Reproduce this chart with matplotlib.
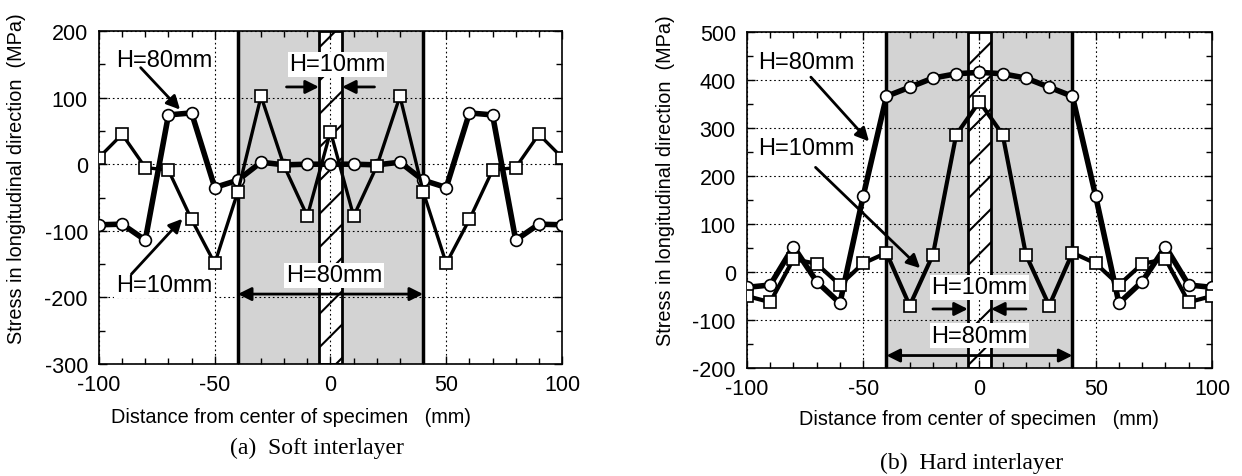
import numpy as np
import matplotlib
matplotlib.use('Agg')
import matplotlib.pyplot as plt
from matplotlib.ticker import MultipleLocator

plt.rcParams.update({
    "font.family": "sans-serif",
    "font.sans-serif": ["Liberation Sans", "DejaVu Sans"],
    "hatch.linewidth": 1.5,
    "axes.unicode_minus": False,
})

# distance from center of specimen (mm)
distance = [-100, -90, -80, -70, -60, -50, -40, -30, -20, -10, 0,
            10, 20, 30, 40, 50, 60, 70, 80, 90, 100]

# (a) soft interlayer
soft_h80 = [-91, -90, -114, 74, 77, -35, -24, 3, -1, 0, 0,
            0, -1, 3, -24, -35, 77, 74, -114, -90, -91]
soft_h10 = [10, 45, -5, -9, -83, -149, -41, 102, -3, -78, 49,
            -78, -3, 102, -41, -149, -83, -9, -5, 45, 10]

# (b) hard interlayer
hard_h80 = [-32, -27, 53, -20, -65, 158, 366, 385, 404, 413, 416,
            413, 404, 385, 366, 158, -65, -20, 53, -27, -32]
hard_h10 = [-50, -63, 27, 17, -27, 18, 40, -70, 36, 286, 355,
            286, 36, -70, 40, 18, -27, 17, 27, -63, -50]

interlayer_half = [40, 5]  # half width of H=80mm and H=10mm zones

FS_TICK = 15.5
FS_LABEL = 14.3
FS_NOTE = 17


def draw_panel(ax, h80, h10, ylim, h80_lw, h10_lw):
    ax.set_xlim(-100, 100)
    ax.set_ylim(*ylim)

    # shaded H=80mm zone and hatched H=10mm zone
    ax.axvspan(-interlayer_half[0], interlayer_half[0], color='#d3d3d3', lw=0, zorder=0.5)
    ax.axvline(-interlayer_half[0], color='k', lw=2.5, zorder=1.2)
    ax.axvline(interlayer_half[0], color='k', lw=2.5, zorder=1.2)
    ax.axvspan(-interlayer_half[1], interlayer_half[1], facecolor='white', edgecolor='k',
               hatch='/', lw=2, zorder=0.8)

    ax.grid(True, which='major', color='k', linestyle=(0, (1.5, 2.5)), lw=0.8)

    ax.plot(distance, h80, '-o', color='k', lw=h80_lw, ms=8.5, mfc='white', mec='k', mew=1.2, zorder=3)
    ax.plot(distance, h10, '-s', color='k', lw=h10_lw, ms=8, mfc='white', mec='k', mew=1.2, zorder=3.1)

    ax.xaxis.set_major_locator(MultipleLocator(50))
    ax.xaxis.set_minor_locator(MultipleLocator(10))
    ax.yaxis.set_major_locator(MultipleLocator(100))
    ax.yaxis.set_minor_locator(MultipleLocator(50))
    ax.tick_params(which='both', direction='in', top=True, right=True, labelsize=FS_TICK, width=1)
    ax.tick_params(which='major', length=6)
    ax.tick_params(which='minor', length=4)
    ax.tick_params(axis='x', pad=7)
    ax.tick_params(axis='y', pad=8)
    for s in ax.spines.values():
        s.set_linewidth(1.2)

    ax.set_xlabel('Distance from center of specimen   (mm)', fontsize=FS_LABEL)
    ax.set_ylabel('Stress in longitudinal direction  (MPa)', fontsize=FS_LABEL)


def label(ax, text, xy):
    box = dict(facecolor='white', edgecolor='none', pad=1)
    ax.text(xy[0], xy[1], text, fontsize=FS_NOTE, ha='center', va='center', bbox=box, zorder=4)


def arrow(ax, start, end, style='-|>'):
    ax.annotate('', xy=end, xytext=start, zorder=5,
                arrowprops=dict(arrowstyle=style, color='k', lw=2, mutation_scale=20,
                                shrinkA=0, shrinkB=0))


fig = plt.figure(figsize=(12.42, 4.77), dpi=100)
ax1 = fig.add_axes([0.0797, 0.2348, 0.3728, 0.6981])
ax2 = fig.add_axes([0.6014, 0.2264, 0.3744, 0.7044])

# (a) soft interlayer
draw_panel(ax1, soft_h80, soft_h10, (-300, 200), 4.0, 2.4)
label(ax1, 'H=80mm', (-72, 157))
arrow(ax1, (-82, 145), (-65, 82))
label(ax1, 'H=10mm', (-72, -182))
arrow(ax1, (-86, -165), (-64, -82))
label(ax1, 'H=10mm', (3, 150))
arrow(ax1, (-19, 116), (-5, 116))
arrow(ax1, (19, 116), (5, 116))
label(ax1, 'H=80mm', (1.5, -167))
arrow(ax1, (-40, -195), (40, -195), '<|-|>')
ax1.yaxis.set_label_coords(-0.158, 0.56)
ax1.xaxis.set_label_coords(0.415, -0.129)

# (b) hard interlayer
draw_panel(ax2, hard_h80, hard_h10, (-200, 500), 4.0, 3.0)
label(ax2, 'H=80mm', (-74.5, 437))
arrow(ax2, (-72.5, 406), (-47.5, 272))
label(ax2, 'H=10mm', (-74.5, 259))
arrow(ax2, (-70.5, 218), (-25.5, 8))
label(ax2, 'H=10mm', (0, -32))
arrow(ax2, (-20, -77), (-5, -77))
arrow(ax2, (20, -77), (5, -77))
label(ax2, 'H=80mm', (0, -133))
arrow(ax2, (-40, -174), (40, -174), '<|-|>')
ax2.yaxis.set_label_coords(-0.155, 0.56)
ax2.xaxis.set_label_coords(0.5, -0.122)

serif = ['Liberation Serif', 'DejaVu Serif']
fig.text(230 / 1242, 1 - 448 / 477, '(a)  Soft interlayer', fontsize=17, ha='left', va='center',
         family=serif)
fig.text(880 / 1242, 1 - 463 / 477, '(b)  Hard interlayer', fontsize=17, ha='left', va='center',
         family=serif)

fig.savefig('out.png', dpi=100)
